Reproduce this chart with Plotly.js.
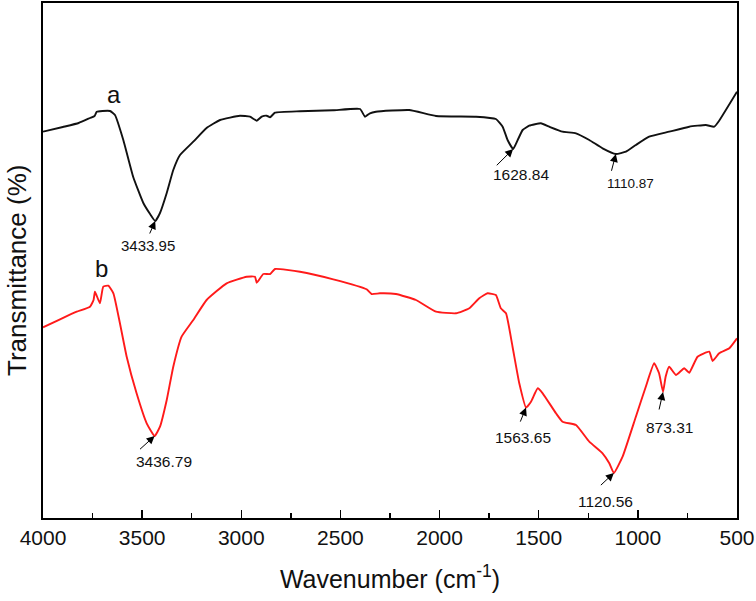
<!DOCTYPE html>
<html>
<head>
<meta charset="utf-8">
<script src="https://cdn.plot.ly/plotly-3.0.1.min.js"></script>
<style>html,body{margin:0;padding:0;background:#fff;}#chart{width:756px;height:601px;}</style>
</head>
<body>
<div id="chart"></div>
<script>
// Sample a (black) — wavenumber (cm-1) and transmittance (a.u.)
const wnA = [4000,3900,3820,3763,3740,3729,3700,3662,3637,3595,3545,3494,3460,3434,3410,3376,3343,3309,3242,3175,3107,3007,2956,2922,2897,2872,2855,2830,2704,2537,2401,2376,2351,2321,2153,2018,1816,1716,1682,1657,1629,1606,1581,1548,1489,1447,1380,1312,1245,1178,1111,1060,1010,943,842,741,657,615,590,500];
const tA  = [386.3,391,395,400,402,406.3,407,407,403,378,341,315,304,297,305,325,348,363,376.3,390,398,402.3,401.3,397.3,401.3,402.3,400.7,405.3,406.7,407.7,409,401.3,404.7,406.3,408,402,401.3,399,391.3,378,369,378,388,392.3,394.7,391.3,386.3,384.7,378,369.7,364,366.3,373,381.3,386.3,391.3,393,391.3,397.3,426.3];

// Sample b (red)
const wnB = [4000,3914,3830,3763,3745,3738,3713,3696,3671,3645,3612,3578,3528,3477,3437,3410,3376,3343,3301,3242,3175,3074,2973,2931,2922,2889,2855,2830,2704,2536,2368,2343,2301,2220,2119,2018,1917,1850,1800,1758,1716,1691,1665,1632,1598,1564,1539,1505,1480,1413,1380,1312,1245,1178,1144,1121,1077,1010,960,918,893,873,860,842,808,766,741,699,640,623,590,539,500];
const tB  = [190.7,198.7,206.3,211.3,218,226.3,214.7,231.3,232.3,224.7,194.7,161.3,124.7,94.7,82,91.3,118,151.3,181.3,198,218,234.7,241.3,241.3,235.3,244,244,249,246.3,238.7,228.7,224,224.7,224,218,206.3,204.7,209.7,219.7,224.7,223,209.7,204.7,171.3,134.7,110.5,116.3,129.7,124.7,104.7,96.3,93,76.3,64.7,54.7,45,61.3,101.3,131.3,154.7,144.7,126,141.3,151.3,143,149.7,145.3,161.3,166.3,157,164.7,169.7,179.7];

const xTickVals = [4000,3500,3000,2500,2000,1500,1000,500];
const xTickText = ["4000","3500","3000","2500","2000","1500","1000","500"];

// Peak labels: [series, label, wavenumber]
const peakSeries = ["a","a","a","b","b","b","b"];
const peakLabels = ["3433.95","1628.84","1110.87","3436.79","1563.65","1120.56","873.31"];
const peakWn     = [3434,1629,1111,3437,1564,1121,873];
const peakFont   = [15,15.5,13.5,15.5,15.5,15.5,15.5];
// arrow tail offsets (px) and label offsets (px) relative to arrow head
const arrowDx = [-6.6,-18.4,-5,-16.6,-6.7,-15,-4.5];
const arrowDy = [15,18.3,19.3,15,16.6,14,20];
const textDx  = [-7,8.3,14.3,9.2,-3.3,-8.7,6.5];
const textDy  = [24,25,29,25,30,28.3,35];

const FONT = "Liberation Sans, Arial, Helvetica, sans-serif";

function valueAt(wn, t, w) {
  let best = 0;
  for (let i = 1; i < wn.length; i++) if (Math.abs(wn[i]-w) < Math.abs(wn[best]-w)) best = i;
  return t[best];
}

const traces = [
  {x: wnA, y: tA, type: "scatter", mode: "lines", name: "a",
   line: {color: "#111111", width: 1.9, shape: "spline", smoothing: 0.4}},
  {x: wnB, y: tB, type: "scatter", mode: "lines", name: "b",
   line: {color: "#ff1a1a", width: 1.9, shape: "spline", smoothing: 0.4}}
];

const annotations = [];
for (let i = 0; i < peakLabels.length; i++) {
  const s = peakSeries[i] === "a" ? [wnA, tA] : [wnB, tB];
  const yv = valueAt(s[0], s[1], peakWn[i]);
  annotations.push({x: peakWn[i], y: yv, xref: "x", yref: "y", text: " ",
    showarrow: true, arrowhead: 2, arrowsize: 1.6, arrowwidth: 1, arrowcolor: "#000",
    ax: arrowDx[i], ay: arrowDy[i], standoff: 0, font: {size: 2}});
  annotations.push({x: peakWn[i], y: yv, xref: "x", yref: "y", text: peakLabels[i],
    showarrow: false, xshift: textDx[i], yshift: -textDy[i],
    font: {family: FONT, size: peakFont[i], color: "#111"}});
}
annotations.push({x: 3700, y: tA[6], xref: "x", yref: "y", text: "a", showarrow: false,
  yshift: 17, xshift: 12, font: {family: FONT, size: 24, color: "#111"}});
annotations.push({x: 3686, y: tB[8], xref: "x", yref: "y", text: "b", showarrow: false,
  yshift: 17, xshift: -4, font: {family: FONT, size: 24, color: "#111"}});
// y-axis title
annotations.push({xref: "paper", yref: "paper", x: (17 - 43) / 694, y: (518 - 271) / 515,
  xanchor: "center", yanchor: "middle", textangle: -90, showarrow: false,
  text: "Transmittance (%)", font: {family: FONT, size: 26, color: "#111"}});

const layout = {
  width: 756, height: 601,
  margin: {l: 43, r: 19, t: 3, b: 83},
  paper_bgcolor: "#fff", plot_bgcolor: "#fff",
  showlegend: false,
  font: {family: FONT, color: "#111"},
  xaxis: {
    range: [4000, 500], autorange: false,
    tickvals: xTickVals, ticktext: xTickText,
    ticks: "inside", ticklen: 8, tickwidth: 1.5, tickcolor: "#000",
    minor: {dtick: 250, ticks: "inside", ticklen: 5, tickwidth: 1.5, tickcolor: "#000"},
    showline: true, linecolor: "#000", linewidth: 1.8, mirror: true,
    showgrid: false, zeroline: false,
    tickfont: {family: FONT, size: 21, color: "#111"},
    ticklabelstandoff: 0,
    title: {text: "Wavenumber (cm<sup>-1</sup>)", font: {family: FONT, size: 25, color: "#111"}, standoff: 22}
  },
  yaxis: {
    range: [0, 515], autorange: false,
    showticklabels: false, ticks: "",
    showline: true, linecolor: "#000", linewidth: 1.8, mirror: true,
    showgrid: false, zeroline: false
  },
  annotations: annotations
};

Plotly.newPlot("chart", traces, layout, {staticPlot: true, displayModeBar: false});
</script>
</body>
</html>
